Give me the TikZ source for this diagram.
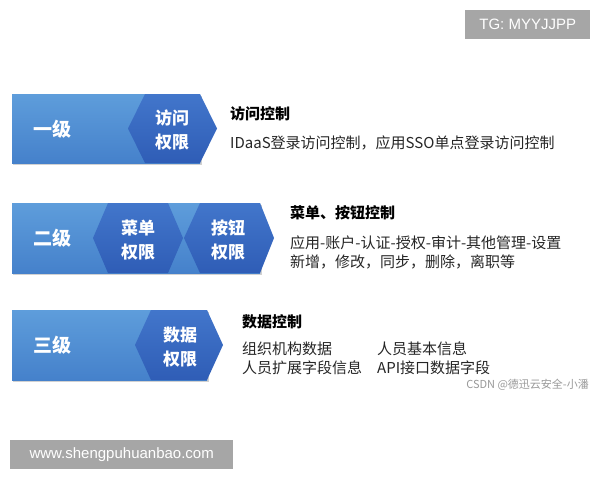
\documentclass[tikz,border=0pt]{standalone}
\usepackage{fontspec}
\setmainfont{Noto Sans CJK SC}
\newfontfamily\wmfont{Liberation Sans}
\definecolor{barTop}{HTML}{5E9DDB}
\definecolor{barBot}{HTML}{4581CB}
\definecolor{hexTop}{HTML}{4276CB}
\definecolor{hexBot}{HTML}{2F5DB6}
\definecolor{wmgrey}{HTML}{A6A6A6}
\tikzset{
  bar/.style={top color=barTop, bottom color=barBot, draw=none},
  hexa/.style={top color=hexTop, bottom color=hexBot, draw=none},
  shadowfill/.style={fill=black!18, draw=none},
  lvl/.style={text=white, font=\fontsize{19}{22}\selectfont\bfseries, inner sep=0pt},
  hexlbl/.style={text=white, font=\fontsize{17}{24}\selectfont\bfseries, align=center, inner sep=0pt},
  ttl/.style={anchor=west, inner sep=0pt, font=\fontsize{15}{18}\selectfont\bfseries},
  body/.style={anchor=west, inner sep=0pt, font=\fontsize{15}{18}\selectfont, text=black!85},
  wm/.style={fill=wmgrey, text=white, font=\wmfont\fontsize{15}{18}\selectfont, inner sep=0pt, anchor=north west}
}
% hexagon: left point x, inner left x, inner right x, right point x, top y, bottom y
\newcommand\myhex[6]{%
  \path[hexa] (#1,{(#5+#6)/2}) -- (#2,#5) -- (#3,#5) -- (#4,{(#5+#6)/2}) -- (#3,#6) -- (#2,#6) -- cycle;}
\begin{document}
\begin{tikzpicture}[x=1pt,y=-1pt]
\useasboundingbox (0,0) rectangle (600,480);
\fill[white] (0,0) rectangle (600,480);

% Row 1
\path[shadowfill] (13,96) rectangle (202,165);
\path[bar] (12,94) rectangle (200,163);
\myhex{128}{145}{200}{217}{94}{163}
\node[lvl] (l1) at (52,129) {一级};
\node[hexlbl] (h1) at (172,130) {访问\\权限};
\node[ttl] (t1) at (230,114) {访问控制};
\node[body] (b1) at (230,143) {IDaaS登录访问控制，应用SSO单点登录访问控制};

% Row 2
\path[shadowfill] (13,205) rectangle (262,275);
\path[bar] (12,203) rectangle (260,273);
\myhex{93}{108}{168}{183}{203}{273}
\myhex{184}{200}{260}{274}{203}{273}
\node[lvl] (l2) at (52,238) {二级};
\node[hexlbl] (h2) at (138,240) {菜单\\权限};
\node[hexlbl] (h3) at (228,240) {按钮\\权限};
\node[ttl] (t2) at (290,213) {菜单、按钮控制};
\node[body] (b2) at (290,243) {应用-账户-认证-授权-审计-其他管理-设置};
\node[body] (b3) at (290,262) {新增，修改，同步，删除，离职等};

% Row 3
\path[shadowfill] (13,312) rectangle (209,382);
\path[bar] (12,310) rectangle (207,380);
\myhex{135}{151}{207}{223}{310}{380}
\node[lvl] (l3) at (52,345) {三级};
\node[hexlbl] (h4) at (180,347) {数据\\权限};
\node[ttl] (t3) at (242,322) {数据控制};
\node[body] (b4) at (242,349) {组织机构数据};
\node[body] (b5) at (242,368) {人员扩展字段信息};
\node[body] (b6) at (377,349) {人员基本信息};
\node[body] (b7) at (377,368) {API接口数据字段};

% watermarks
\node[wm, minimum width=125pt, minimum height=29pt] (w1) at (465,10) {TG: MYYJJPP};
\node[wm, minimum width=223pt, minimum height=29pt] (w2) at (10,440) {www.shengpuhuanbao.com};
\node[anchor=east, inner sep=0pt, text=black!40, font=\fontsize{11}{13}\selectfont] (w3) at (589,385) {CSDN @德迅云安全-小潘};
\end{tikzpicture}
\end{document}
